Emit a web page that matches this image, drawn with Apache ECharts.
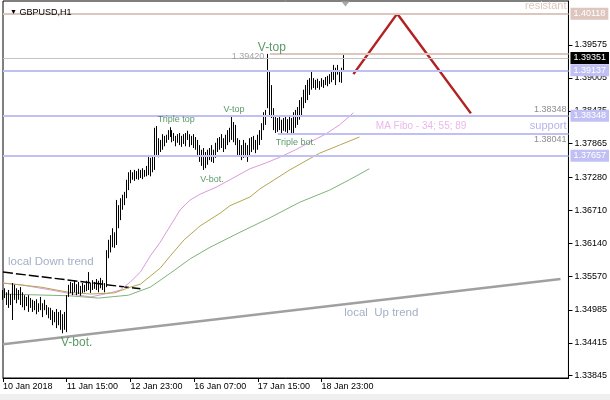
<!DOCTYPE html>
<html><head><meta charset="utf-8">
<script src="https://cdn.jsdelivr.net/npm/echarts@6/dist/echarts.min.js"></script>
<style>html,body{margin:0;padding:0;background:#fff}#c{width:610px;height:400px}</style>
</head><body><div id="c"></div>
<script>
// ---- data (GBPUSD H1) ----
const highs=[1.3533,1.3536,1.3529,1.3533,1.3526,1.3545,1.3542,1.3536,1.3533,1.3538,
1.3529,1.3524,1.3521,1.3524,1.3519,1.3516,1.3514,1.3517,1.3510,1.3521,
1.3510,1.3516,1.3507,1.3503,1.3502,1.3498,1.3495,1.3500,1.3495,1.3498,
1.3491,1.3495,1.3524,1.3542,1.3547,1.3545,1.3550,1.3543,1.3547,1.3540,
1.3545,1.3542,1.3549,1.3564,1.3545,1.3550,1.3547,1.3552,1.3549,1.3554,
1.3550,1.3545,1.3602,1.3620,1.3628,1.3640,1.3633,1.3689,1.3680,1.3692,
1.3698,1.3703,1.3724,1.3737,1.3741,1.3737,1.3741,1.3739,1.3743,1.3741,
1.3744,1.3741,1.3748,1.3767,1.3762,1.3765,1.3814,1.3817,1.3796,1.3793,
1.3803,1.3800,1.3802,1.3810,1.3815,1.3810,1.3805,1.3800,1.3803,1.3805,
1.3800,1.3803,1.3805,1.3809,1.3803,1.3800,1.3803,1.3798,1.3793,1.3784,
1.3776,1.3779,1.3772,1.3776,1.3779,1.3784,1.3776,1.3788,1.3796,1.3798,
1.3803,1.3796,1.3802,1.3810,1.3814,1.3836,1.3824,1.3819,1.3796,1.3793,
1.3784,1.3793,1.3788,1.3784,1.3796,1.3798,1.3800,1.3793,1.3802,1.3810,
1.3822,1.3841,1.3845,1.3942,1.3911,1.3888,1.3848,1.3836,1.3831,1.3833,
1.3828,1.3831,1.3834,1.3829,1.3836,1.3831,1.3841,1.3845,1.3850,1.3862,
1.3867,1.3880,1.3888,1.3897,1.3900,1.3912,1.3900,1.3897,1.3899,1.3895,
1.3900,1.3897,1.3902,1.3904,1.3907,1.3914,1.3923,1.3918,1.3923,1.3914,
1.3918,1.3940];
const lows=[1.3516,1.3519,1.3507,1.3502,1.3507,1.3481,1.3516,1.3510,1.3516,1.3507,
1.3503,1.3498,1.3505,1.3495,1.3502,1.3495,1.3498,1.3491,1.3495,1.3498,
1.3486,1.3498,1.3490,1.3484,1.3481,1.3472,1.3477,1.3467,1.3472,1.3464,
1.3458,1.3464,1.3460,1.3521,1.3528,1.3524,1.3529,1.3524,1.3526,1.3523,
1.3528,1.3529,1.3531,1.3533,1.3528,1.3533,1.3535,1.3533,1.3529,1.3536,
1.3533,1.3529,1.3538,1.3588,1.3598,1.3607,1.3606,1.3611,1.3640,1.3654,
1.3672,1.3680,1.3692,1.3706,1.3718,1.3724,1.3722,1.3725,1.3724,1.3727,
1.3725,1.3729,1.3730,1.3732,1.3730,1.3737,1.3741,1.3767,1.3763,1.3772,
1.3776,1.3782,1.3788,1.3793,1.3798,1.3789,1.3791,1.3782,1.3788,1.3784,
1.3781,1.3786,1.3782,1.3793,1.3781,1.3784,1.3779,1.3776,1.3767,1.3755,
1.3748,1.3741,1.3744,1.3750,1.3758,1.3755,1.3753,1.3762,1.3772,1.3776,
1.3779,1.3772,1.3777,1.3784,1.3789,1.3793,1.3789,1.3784,1.3767,1.3765,
1.3758,1.3762,1.3763,1.3755,1.3765,1.3772,1.3776,1.3770,1.3776,1.3784,
1.3793,1.3810,1.3819,1.3848,1.3836,1.3831,1.3810,1.3805,1.3807,1.3810,
1.3803,1.3809,1.3807,1.3805,1.3810,1.3803,1.3802,1.3814,1.3819,1.3828,
1.3836,1.3848,1.3857,1.3862,1.3871,1.3880,1.3883,1.3880,1.3883,1.3880,
1.3885,1.3883,1.3888,1.3886,1.3890,1.3893,1.3897,1.3888,1.3906,1.3893,
1.3892,1.3911];
const opens=[1.3528,1.3525,1.3522,1.3515,1.3520,1.3512,1.3530,1.3525,1.3518,1.3524,
1.3515,1.3510,1.3515,1.3510,1.3505,1.3512,1.3505,1.3508,1.3500,1.3505,
1.3510,1.3500,1.3505,1.3495,1.3490,1.3488,1.3480,1.3485,1.3478,1.3485,
1.3470,1.3468,1.3470,1.3522,1.3530,1.3540,1.3535,1.3542,1.3532,1.3540,
1.3530,1.3538,1.3535,1.3545,1.3540,1.3535,1.3545,1.3540,1.3548,1.3540,
1.3548,1.3540,1.3540,1.3595,1.3605,1.3620,1.3615,1.3625,1.3670,1.3660,
1.3685,1.3680,1.3698,1.3715,1.3730,1.3728,1.3732,1.3730,1.3735,1.3730,
1.3738,1.3735,1.3740,1.3745,1.3760,1.3745,1.3760,1.3805,1.3780,1.3775,
1.3790,1.3785,1.3795,1.3795,1.3805,1.3802,1.3795,1.3800,1.3790,1.3798,
1.3790,1.3795,1.3800,1.3795,1.3802,1.3790,1.3795,1.3785,1.3782,1.3770,
1.3760,1.3755,1.3770,1.3750,1.3770,1.3765,1.3775,1.3765,1.3785,1.3790,
1.3785,1.3795,1.3780,1.3800,1.3805,1.3810,1.3800,1.3815,1.3790,1.3775,
1.3783,1.3765,1.3785,1.3770,1.3780,1.3775,1.3795,1.3780,1.3790,1.3800,
1.3805,1.3818,1.3838,1.3850,1.3860,1.3850,1.3835,1.3815,1.3825,1.3812,
1.3828,1.3810,1.3825,1.3815,1.3825,1.3815,1.3828,1.3835,1.3840,1.3848,
1.3858,1.3860,1.3875,1.3880,1.3890,1.3895,1.3890,1.3892,1.3888,1.3895,
1.3890,1.3898,1.3892,1.3900,1.3898,1.3905,1.3910,1.3900,1.3910,1.3912,
1.3898,1.3915];
const closes=[1.3525,1.3522,1.3515,1.3520,1.3512,1.3530,1.3525,1.3518,1.3524,1.3515,
1.3510,1.3515,1.3510,1.3505,1.3512,1.3505,1.3508,1.3500,1.3505,1.3510,
1.3495,1.3505,1.3495,1.3490,1.3488,1.3480,1.3485,1.3478,1.3485,1.3470,
1.3468,1.3470,1.3520,1.3530,1.3540,1.3535,1.3542,1.3532,1.3540,1.3530,
1.3538,1.3535,1.3545,1.3540,1.3535,1.3545,1.3540,1.3548,1.3535,1.3548,
1.3540,1.3540,1.3595,1.3605,1.3620,1.3615,1.3625,1.3670,1.3660,1.3685,
1.3680,1.3698,1.3715,1.3730,1.3728,1.3732,1.3730,1.3735,1.3730,1.3738,
1.3735,1.3740,1.3745,1.3760,1.3745,1.3760,1.3805,1.3780,1.3775,1.3790,
1.3785,1.3795,1.3792,1.3805,1.3802,1.3795,1.3800,1.3790,1.3798,1.3790,
1.3795,1.3800,1.3790,1.3802,1.3790,1.3795,1.3785,1.3782,1.3770,1.3760,
1.3755,1.3770,1.3750,1.3770,1.3765,1.3775,1.3760,1.3785,1.3790,1.3785,
1.3795,1.3780,1.3800,1.3805,1.3810,1.3800,1.3815,1.3790,1.3775,1.3785,
1.3765,1.3785,1.3770,1.3780,1.3775,1.3795,1.3780,1.3790,1.3800,1.3805,
1.3818,1.3838,1.3840,1.3860,1.3850,1.3835,1.3815,1.3825,1.3812,1.3828,
1.3810,1.3825,1.3815,1.3825,1.3815,1.3828,1.3835,1.3840,1.3848,1.3858,
1.3860,1.3875,1.3880,1.3890,1.3895,1.3890,1.3892,1.3888,1.3895,1.3890,
1.3898,1.3892,1.3900,1.3898,1.3905,1.3910,1.3900,1.3910,1.3915,1.3898,
1.3915,1.3935];

// time axis ticks (bar index -> label)
const tickIndex=[0,32,64,96,128,160];
const tickLabels=['10 Jan 2018','11 Jan 15:00','12 Jan 23:00','16 Jan 07:00','17 Jan 15:00','18 Jan 23:00'];
const slotCount=285;
const yTicks=[1.39575,1.39005,1.38435,1.37865,1.37280,1.36710,1.36140,1.35570,1.34985,1.34415,1.33845];

// moving averages (MA Fibo 34;55;89, shifted) read at bar indices
const ma34Idx=[0,9,24,38,44,54,59,64,69,74,79,84,89,94,99,107,114,124,132,139,147,154,162,169,176];
const ma34Val=[1.3545,1.3542,1.3533,1.3524,1.3521,1.3528,1.3533,1.3547,1.3564,1.3592,1.3616,1.3644,1.3672,1.3689,1.3699,1.3711,1.3724,1.3743,1.3753,1.3763,1.3776,1.3789,1.3803,1.3819,1.3840];
const ma55Idx=[0,19,33,44,56,64,69,74,79,84,91,99,109,114,124,129,144,159,169,179];
const ma55Val=[1.3545,1.3538,1.3529,1.3526,1.3528,1.3538,1.3543,1.3557,1.3571,1.3592,1.3620,1.3644,1.3666,1.3679,1.3694,1.3708,1.3741,1.3770,1.3784,1.3798];
const ma89Idx=[0,33,48,63,74,84,94,104,119,134,149,164,174,184];
const ma89Val=[1.3526,1.3523,1.3519,1.3524,1.3538,1.3562,1.3587,1.3607,1.3633,1.3658,1.3685,1.3706,1.3724,1.3743];

// drawn objects
const upTrendIdx=[0,280], upTrendVal=[1.3439,1.3552];
const downTrendIdx=[0,69], downTrendVal=[1.3564,1.3535];
const zigzagIdx=[176,198,235], zigzagVal=[1.3907,1.40118,1.3839];
const resistance=1.40118, bid=1.39351, vTopLevel=1.39420, vTopStart=134;
const supportLevels=[1.39137,1.38348,1.37657];
const supportLow=1.38041, supportLowStart=138;

// ---- chart ----
const FONT='"Liberation Sans", Arial, sans-serif';
const GREEN='#2f7f3f', TREND='#8c9bb5', PINKLINE='#dcc6be', LAV='#c0c0f4', GREYTXT='#8c8c8c';
const categories=[]; for(let i=0;i<slotCount;i++) categories.push(String(i));
const ohlc=closes.map((c,i)=>[opens[i],c,lows[i],highs[i]]);
const pair=(xs,ys)=>xs.map((x,k)=>[x,ys[k]]);
const boxLabel=(bg,fg)=>({show:true,position:'end',distance:2,formatter:p=>Number(p.value).toFixed(5),
  backgroundColor:bg,color:fg,fontFamily:FONT,fontSize:9,padding:[2,3,1,3]});
const txt=(pos,text,color,size)=>({show:true,position:pos,distance:2,formatter:text,color:color,fontFamily:FONT,fontSize:size});
const hidden={color:'rgba(0,0,0,0)',width:0};

const notes=[
 {t:'V-top',i:134.5,p:1.3952,c:GREEN,s:12},
 {t:'V-top',i:115.75,p:1.3846,c:GREEN,s:9},
 {t:'Triple top',i:87,p:1.3828,c:GREEN,s:9},
 {t:'Triple bot.',i:146.5,p:1.3789,c:GREEN,s:9},
 {t:'V-bot.',i:104.75,p:1.3725,c:GREEN,s:9},
 {t:'V-bot.',i:37.25,p:1.3441,c:GREEN,s:12},
 {t:'local Down trend',i:23.5,p:1.35815,c:TREND,s:11.5},
 {t:'local  Up trend',i:189.5,p:1.3494,c:TREND,s:11.5},
 {t:'MA Fibo - 34; 55; 89',i:209.5,p:1.3817,c:'#e6a6e6',s:10},
 {t:'1.39420',i:122.5,p:1.3937,c:GREYTXT,s:9}
];

const chart=echarts.init(document.getElementById('c'));
chart.setOption({
 animation:false,
 backgroundColor:'#fff',
 title:{text:'{a|▼} GBPUSD,H1',left:5,top:3,textStyle:{fontFamily:FONT,fontSize:9,fontWeight:'normal',color:'#000',rich:{a:{fontSize:7,color:'#000'}}}},
 graphic:[{type:'rect',left:0,top:394,z:-1,shape:{width:610,height:6},style:{fill:'#efefef'}}],
 grid:{left:2,right:39,top:1,bottom:22,show:true,borderColor:'#000',borderWidth:1,backgroundColor:'#fff'},
 xAxis:{type:'category',data:categories,boundaryGap:false,
  axisLine:{lineStyle:{color:'#000'}},
  axisTick:{show:true,length:4,interval:(idx)=>tickIndex.includes(idx),lineStyle:{color:'#000'}},
  axisLabel:{interval:(idx)=>tickIndex.includes(idx),formatter:(v,idx)=>{const k=tickIndex.indexOf(idx);return k>=0?tickLabels[k]:'';},
   align:'left',margin:4,color:'#000',fontFamily:FONT,fontSize:9},
  splitLine:{show:false}},
 yAxis:{type:'value',position:'right',min:1.33805,max:1.40337,scale:true,
  axisLine:{show:true,lineStyle:{color:'#000'}},
  axisTick:{show:true,length:4,customValues:yTicks,lineStyle:{color:'#000'}},
  axisLabel:{customValues:yTicks,formatter:v=>Number(v).toFixed(5),margin:6,color:'#000',fontFamily:FONT,fontSize:9},
  splitLine:{show:false}},
 series:[
  {type:'line',data:[],z:1,silent:true,
   markLine:{silent:true,symbol:'none',animation:false,precision:5,
    data:[
     {yAxis:resistance,lineStyle:{color:PINKLINE,width:2,type:'solid'},label:boxLabel(PINKLINE,'#fff')},
     {yAxis:resistance,lineStyle:hidden,label:txt('insideEndTop','resistant',PINKLINE,11)},
     {yAxis:bid,lineStyle:{color:'#c4c4c4',width:1,type:'solid'},label:boxLabel('#000','#fff')},
     [{coord:[vTopStart,vTopLevel],lineStyle:{color:PINKLINE,width:2,type:'solid'},label:{show:false}},{coord:[slotCount-1,vTopLevel]}],
     ...supportLevels.map(v=>({yAxis:v,lineStyle:{color:LAV,width:2,type:'solid'},label:boxLabel(LAV,'#fff')})),
     {yAxis:supportLevels[1],lineStyle:hidden,label:txt('insideEndTop','1.38348',GREYTXT,9)},
     [{coord:[supportLowStart,supportLow],lineStyle:{color:LAV,width:2,type:'solid'},label:txt('insideEndTop','support','#b4b4ee',11)},{coord:[slotCount-1,supportLow]}],
     [{coord:[supportLowStart,supportLow],lineStyle:hidden,label:txt('insideEndBottom','1.38041',GREYTXT,9)},{coord:[slotCount-1,supportLow]}]
    ]}},
  {type:'line',data:pair(upTrendIdx,upTrendVal),showSymbol:false,z:2,silent:true,lineStyle:{color:'#a0a0a0',width:2.5}},
  {type:'line',data:pair(downTrendIdx,downTrendVal),showSymbol:false,z:2,silent:true,lineStyle:{color:'#000',width:1.5,type:[10,3]}},
  {type:'line',data:pair(ma34Idx,ma34Val),showSymbol:false,z:2,silent:true,lineStyle:{color:'#dd99dd',width:1}},
  {type:'line',data:pair(ma55Idx,ma55Val),showSymbol:false,z:2,silent:true,lineStyle:{color:'#b3a650',width:1}},
  {type:'line',data:pair(ma89Idx,ma89Val),showSymbol:false,z:2,silent:true,lineStyle:{color:'#7fb37a',width:1}},
  {type:'line',data:pair(zigzagIdx,zigzagVal),showSymbol:false,z:3,silent:true,lineStyle:{color:'#b22222',width:2.5}},
  {type:'candlestick',data:ohlc,z:4,silent:true,barWidth:0.1,
   itemStyle:{color:'#000',color0:'#000',borderColor:'#000',borderColor0:'#000',borderWidth:1},
   markPoint:{silent:true,symbol:'triangle',symbolRotate:180,symbolSize:[8,5],symbolOffset:[0,3],itemStyle:{color:'#a8a8a8'},label:{show:false},
    data:[{coord:[172,1.40337]}]}},
  {type:'scatter',z:5,silent:true,symbolSize:1,itemStyle:{color:'rgba(0,0,0,0)'},
   data:notes.map(n=>({value:[n.i,n.p],label:{show:true,position:'inside',formatter:n.t,color:n.c,fontSize:n.s,fontFamily:FONT}}))}
 ]
});
</script></body></html>
